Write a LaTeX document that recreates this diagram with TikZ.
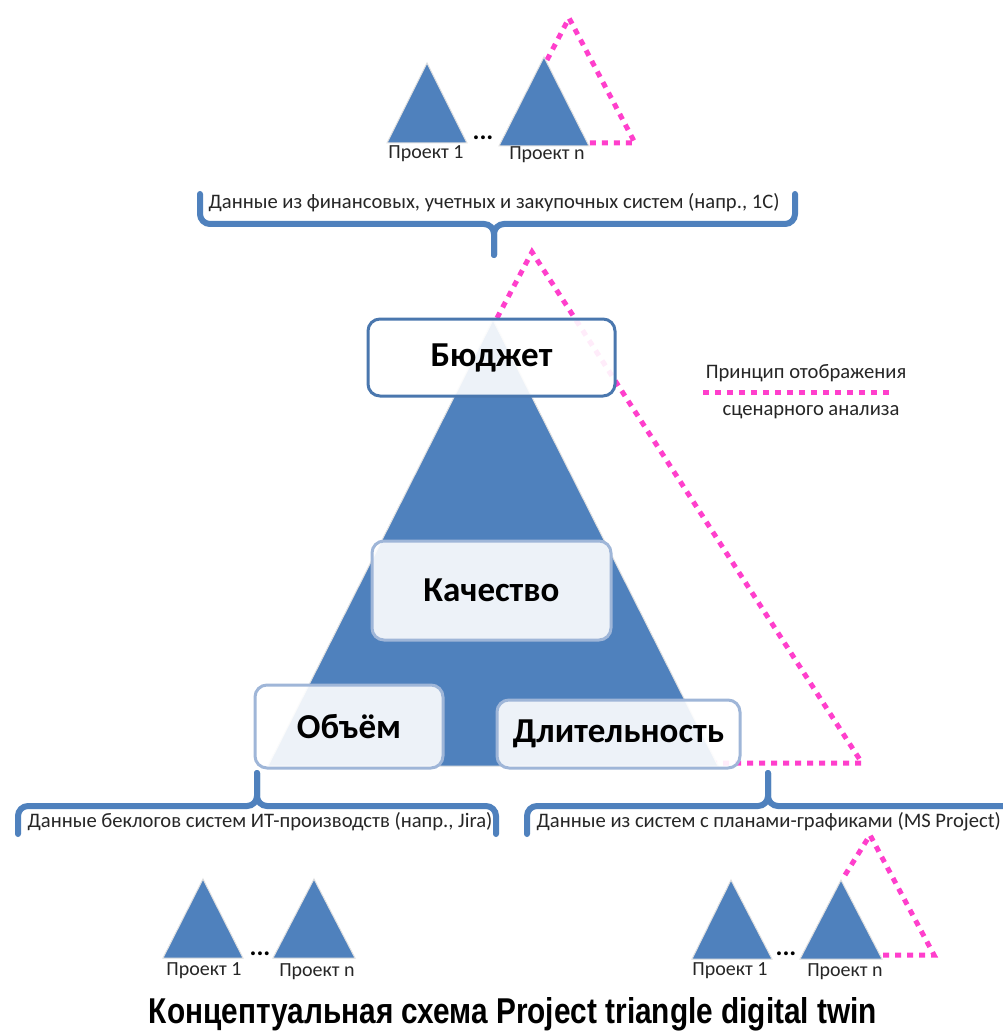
\documentclass[tikz,border=0pt]{standalone}
\usepackage{fontspec}
\setmainfont{Carlito}
\newfontfamily\titlefont{Liberation Sans}
\definecolor{triblue}{HTML}{4F81BD}
\definecolor{boxedge}{HTML}{4A77AE}
\definecolor{softedge}{HTML}{9FB6D8}
\definecolor{pinkdot}{HTML}{FF3FCC}
\tikzset{
  projtri/.style={fill=triblue, draw=black!12, line width=1pt},
  pinkdots/.style={draw=pinkdot, line width=5pt, dash pattern=on 6pt off 6pt},
  bracepath/.style={draw=triblue, line width=6pt, rounded corners=10pt, line cap=round},
  topbox/.style={draw=boxedge, line width=3pt, rounded corners=12pt, fill=white, fill opacity=0.9, text opacity=1, font=\fontsize{35}{38}\selectfont\bfseries},
  softbox/.style={draw=softedge, line width=3pt, rounded corners=12pt, fill=white, fill opacity=0.9, text opacity=1, font=\fontsize{35}{38}\selectfont\bfseries},
  bracetext/.style={font=\fontsize{20.6}{24}\selectfont, text=black!85, inner sep=0pt},
  projtext/.style={font=\fontsize{20}{22}\selectfont, text=black!85, inner sep=0pt},
  dotstext/.style={font=\fontsize{26}{28}\selectfont\bfseries, inner sep=0pt},
  legendtext/.style={font=\fontsize{20.6}{24}\selectfont, text=black!85, inner sep=0pt}
}
\begin{document}
\begin{tikzpicture}[x=1pt,y=-1pt]
\useasboundingbox[fill=white] (0,0) rectangle (1002,1032);

% ---- top small projects ----
\draw[pinkdots] (547,60) -- (569,18) -- (635,143) -- (588,143);
\fill[projtri] (427,63) -- (467,143) -- (387,143) -- cycle;
\fill[projtri] (544,57) -- (589,146) -- (499,146) -- cycle;
\node[projtext] (tp1) at (426,154) {Проект 1};
\node[projtext] (tpn) at (547,155) {Проект n};
\node[dotstext] (tdots) at (483,138) {...};

% ---- top brace ----
\draw[bracepath] (200,194) -- (200,224) -- (494,224) -- (494,255);
\draw[bracepath] (795,194) -- (795,224) -- (494,224) -- (494,255);
\node[bracetext] (topdata) at (494,203) {Данные из финансовых, учетных и закупочных систем (напр., 1С)};

% ---- scenario (pink) triangle ----
\draw[pinkdots] (497,318) -- (532,252) -- (862,763) -- (716,763);

% ---- main triangle ----
\fill[projtri] (493,320) -- (718,766) -- (268,766) -- cycle;

% ---- bottom braces ----
\draw[bracepath] (18,834) -- (18,806) -- (257,806) -- (257,773);
\draw[bracepath] (496,834) -- (496,806) -- (257,806) -- (257,773);
\draw[bracepath] (527,834) -- (527,806) -- (768,806) -- (768,773);
\draw[bracepath] (1030,806) -- (768,806) -- (768,773);
\node[bracetext] (jira) at (260,822) {Данные беклогов систем ИТ-производств (напр., Jira)};
\node[bracetext, anchor=east] (msp) at (1001,822) {Данные из систем с планами-графиками (MS Project)};

% ---- boxes ----
\node[topbox, minimum width=247pt, minimum height=77pt] (budget) at (491.5,357.5) {Бюджет};
\node[softbox, minimum width=239pt, minimum height=99pt] (quality) at (491.5,590.5) {Качество};
\node[softbox, minimum width=188pt, minimum height=83pt] (scope) at (349,726.5) {Объём};
\node[softbox, minimum width=243pt, minimum height=68pt] (duration) at (618.5,734) {Длительность};

% ---- legend ----
\node[legendtext] (leg1) at (806,373) {Принцип отображения};
\coordinate (legA) at (703,392);
\coordinate (legB) at (892,392);
\draw[pinkdots] (legA) -- (legB);
\node[legendtext] (leg2) at (811,412) {сценарного анализа};

% ---- bottom-left projects ----
\fill[projtri] (203,879) -- (243,958) -- (163,958) -- cycle;
\fill[projtri] (314,879) -- (355,958) -- (273,958) -- cycle;
\node[projtext] (bl1) at (204,971) {Проект 1};
\node[projtext] (bln) at (317,972) {Проект n};
\node[dotstext] (bldots) at (260,954) {...};

% ---- bottom-right projects ----
\draw[pinkdots] (845,875) -- (870,835) -- (934,955) -- (882,955);
\fill[projtri] (731,880) -- (772,959) -- (692,959) -- cycle;
\fill[projtri] (841,880) -- (882,959) -- (800,959) -- cycle;
\node[projtext] (br1) at (730,971) {Проект 1};
\node[projtext] (brn) at (845,972) {Проект n};
\node[dotstext] (brdots) at (786,954) {...};

% ---- title ----
\node[inner sep=0pt, anchor=base] (title) at (513,1023) {\resizebox{728pt}{26pt}{\titlefont\bfseries Концептуальная схема Project triangle digital twin}};
\end{tikzpicture}
\end{document}
